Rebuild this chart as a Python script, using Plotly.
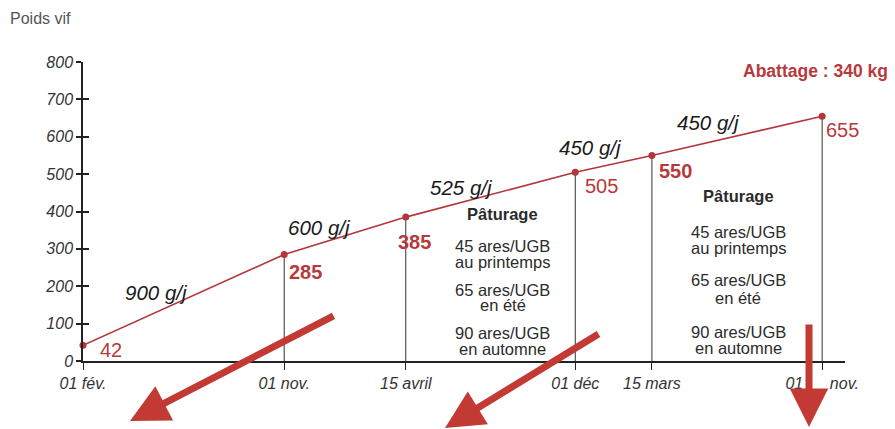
import plotly.graph_objects as go
import pandas as pd

# ---- data ----
dates = ["2021-02-01", "2021-11-01", "2022-04-15", "2022-12-01", "2023-03-15", "2023-11-01"]
tick_labels = ["01 fév.", "01 nov.", "15 avril", "01 déc", "15 mars", "01" + "\u00a0" * 6 + "nov."]
weights = [42, 285, 385, 505, 550, 655]
weight_bold = [False, True, True, False, True, False]
gains = ["900 g/j", "600 g/j", "525 g/j", "450 g/j", "450 g/j"]
pasture_title = "Pâturage"
pasture_lines = ["45 ares/UGB", "au printemps", "65 ares/UGB", "en été", "90 ares/UGB", "en automne"]
slaughter_text = "Abattage : 340 kg"
y_title = "Poids vif"
y_ticks = [0, 100, 200, 300, 400, 500, 600, 700, 800]

# ---- layout geometry (page pixels; the page body adds an 8px offset) ----
OFF = 8
W, H = 887, 421
L, R, T, B = 75, 50, 54, 68
PW, PH = W - L - R, H - T - B
PLOT_LEFT = OFF + L
PLOT_BOTTOM = OFF + H - B

def px2x(px):
    return (px - PLOT_LEFT) / PW

def py2y(py):
    return (PLOT_BOTTOM - py) / PH

RED = "#b3363a"
LBL_RED = "#b8393c"
ARROW = "#c23a33"
TXT = "#2b2b2b"
FONT = "Liberation Sans, Arial, sans-serif"

d = pd.to_datetime(dates)

fig = go.Figure()

# drop lines
for i in range(1, len(d)):
    fig.add_trace(go.Scatter(x=[d[i], d[i]], y=[0, weights[i]], mode="lines",
                             line=dict(color="#333333", width=1), hoverinfo="skip", showlegend=False))

fig.add_trace(go.Scatter(x=d, y=weights, mode="lines+markers",
                         line=dict(color=RED, width=1.6),
                         marker=dict(color=RED, size=7), showlegend=False, cliponaxis=False))

# dummy trace for inner ticks axis
fig.add_trace(go.Scatter(x=[d[0]], y=[None], yaxis="y2", showlegend=False, hoverinfo="skip"))

# value labels
val_off = [(28, 5), (21, 18), (9, 25), (26, 14), (24, 16), (20, 14)]
for i, (dx, dy) in enumerate(val_off):
    txt = f"<b>{weights[i]}</b>" if weight_bold[i] else str(weights[i])
    fig.add_annotation(x=d[i], y=weights[i], xref="x", yref="y", text=txt, showarrow=False,
                       xshift=dx, yshift=-dy, xanchor="center", yanchor="middle",
                       font=dict(family=FONT, size=20, color=LBL_RED))

# gain labels at segment midpoints
gain_off = [(-27, 7), (-25, 8), (-29, 7), (-23, 16), (-29, 13)]
for i, (dx, dy) in enumerate(gain_off):
    mx = d[i] + (d[i + 1] - d[i]) / 2
    my = (weights[i] + weights[i + 1]) / 2
    fig.add_annotation(x=mx, y=my, xref="x", yref="y", text=gains[i], showarrow=False,
                       xshift=dx, yshift=dy, xanchor="center", yanchor="middle",
                       font=dict(family=FONT, size=20.5, color="#1a1a1a", style="italic"))

# pasture blocks
blocks = [
    (2, 12, [214, 246, 262, 290, 305, 333, 349]),
    (4, 1, [196, 232, 248, 280, 298, 332, 348]),
]
for idx, dx, ys in blocks:
    mx = d[idx] + (d[idx + 1] - d[idx]) / 2
    texts = ["<b>" + pasture_title + "</b>"] + pasture_lines
    for t, py in zip(texts, ys):
        fig.add_annotation(x=mx, y=py2y(py), xref="x", yref="paper", text=t, showarrow=False,
                           xshift=dx, xanchor="center", yanchor="middle", borderpad=0,
                           font=dict(family=FONT, size=16.5, color=TXT))

fig.add_annotation(x=px2x(889), y=py2y(71), xref="paper", yref="paper", text="<b>" + slaughter_text + "</b>",
                   showarrow=False, xanchor="right", yanchor="middle", borderpad=0,
                   font=dict(family=FONT, size=17.5, color=LBL_RED))

fig.add_annotation(x=px2x(8), y=py2y(18), xref="paper", yref="paper", text=y_title,
                   showarrow=False, xanchor="left", yanchor="middle",
                   font=dict(family=FONT, size=16, color="#555555"))

# red overlay arrows (head position, tail offset)
arrows = [((130, 421), (205, -106)), ((445, 431), (155, -98)), ((809, 427), (0, -104))]
for (hx, hy), (ax, ay) in arrows:
    fig.add_annotation(x=px2x(hx), y=py2y(hy), xref="paper", yref="paper", ax=ax, ay=ay,
                       text="", showarrow=True, arrowhead=2, arrowsize=1.1, arrowwidth=7,
                       arrowcolor=ARROW, standoff=0)

fig.update_layout(
    width=W, height=H, margin=dict(l=L, r=R, t=T, b=B, pad=0),
    paper_bgcolor="white", plot_bgcolor="white", showlegend=False,
    xaxis=dict(type="date", range=["2021-02-01", "2023-12-02"], tickvals=d, ticktext=tick_labels,
               showgrid=False, zeroline=False, showline=True, linecolor="#222222", linewidth=1.5,
               ticks="outside", ticklen=7, tickcolor="#222222", tickwidth=1,
               tickfont=dict(family=FONT, size=16, color="#333333", style="italic")),
    yaxis=dict(range=[0, 800], tickvals=y_ticks, showgrid=False, zeroline=False, showline=True,
               linecolor="#222222", linewidth=1.5, ticks="outside", ticklen=5, tickcolor="#222222",
               tickwidth=1.5, tickfont=dict(family=FONT, size=16, color="#333333", style="italic")),
    yaxis2=dict(range=[0, 800], overlaying="y", side="left", anchor="x", tickvals=y_ticks[1:],
                ticks="inside", ticklen=6, tickwidth=1.5, tickcolor="#222222", showticklabels=False,
                showgrid=False, zeroline=False, showline=False),
)

fig.write_html("out.html")
